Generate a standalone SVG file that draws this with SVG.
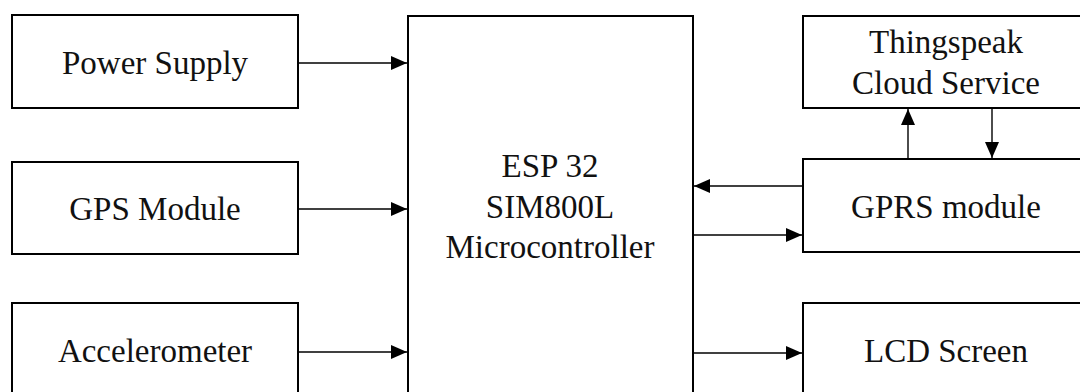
<svg xmlns="http://www.w3.org/2000/svg" width="1080" height="392" viewBox="0 0 1080 392">
<style>
.box{fill:#fff;stroke:#000;stroke-width:2}
.lbl{font-family:"Liberation Serif","Times New Roman",serif;font-size:33px;fill:#111;text-anchor:middle}
.con{stroke:#000;stroke-width:1.4;fill:none}
</style>
<defs>
<marker id="ah" markerUnits="userSpaceOnUse" markerWidth="17" markerHeight="15" refX="16" refY="7" orient="auto" viewBox="0 0 17 15">
<path d="M0,0 L16,7 L0,14 z" fill="#000"/>
</marker>
</defs>
<rect width="1080" height="392" fill="#fff"/>
<g id="power"><rect class="box" x="12" y="15" width="286" height="93"/><text class="lbl" x="155" y="74">Power Supply</text></g>
<g id="gps"><rect class="box" x="12" y="162" width="286" height="92"/><text class="lbl" x="155" y="220">GPS Module</text></g>
<g id="accel"><rect class="box" x="12" y="303" width="286" height="110"/><text class="lbl" x="155" y="362">Accelerometer</text></g>
<g id="mcu"><rect class="box" x="408" y="16" width="285" height="400"/>
<text class="lbl" x="550" y="177">ESP 32</text>
<text class="lbl" x="550" y="218">SIM800L</text>
<text class="lbl" x="550" y="258">Microcontroller</text></g>
<g id="cloud"><rect class="box" x="803" y="16" width="290" height="92"/>
<text class="lbl" x="946" y="53">Thingspeak</text>
<text class="lbl" x="946" y="94">Cloud Service</text></g>
<g id="gprs"><rect class="box" x="803" y="159" width="290" height="93"/><text class="lbl" x="946" y="218">GPRS module</text></g>
<g id="lcd"><rect class="box" x="803" y="303" width="290" height="110"/><text class="lbl" x="946" y="362">LCD Screen</text></g>
<g id="connectors">
<line class="con" x1="299" y1="63" x2="407" y2="63" marker-end="url(#ah)"/>
<line class="con" x1="299" y1="209" x2="407" y2="209" marker-end="url(#ah)"/>
<line class="con" x1="299" y1="352" x2="407" y2="352" marker-end="url(#ah)"/>
<line class="con" x1="802" y1="186" x2="694" y2="186" marker-end="url(#ah)"/>
<line class="con" x1="694" y1="235" x2="802" y2="235" marker-end="url(#ah)"/>
<line class="con" x1="694" y1="353" x2="802" y2="353" marker-end="url(#ah)"/>
<line class="con" x1="908" y1="158" x2="908" y2="109" marker-end="url(#ah)"/>
<line class="con" x1="992" y1="109" x2="992" y2="158" marker-end="url(#ah)"/>
</g>
</svg>
